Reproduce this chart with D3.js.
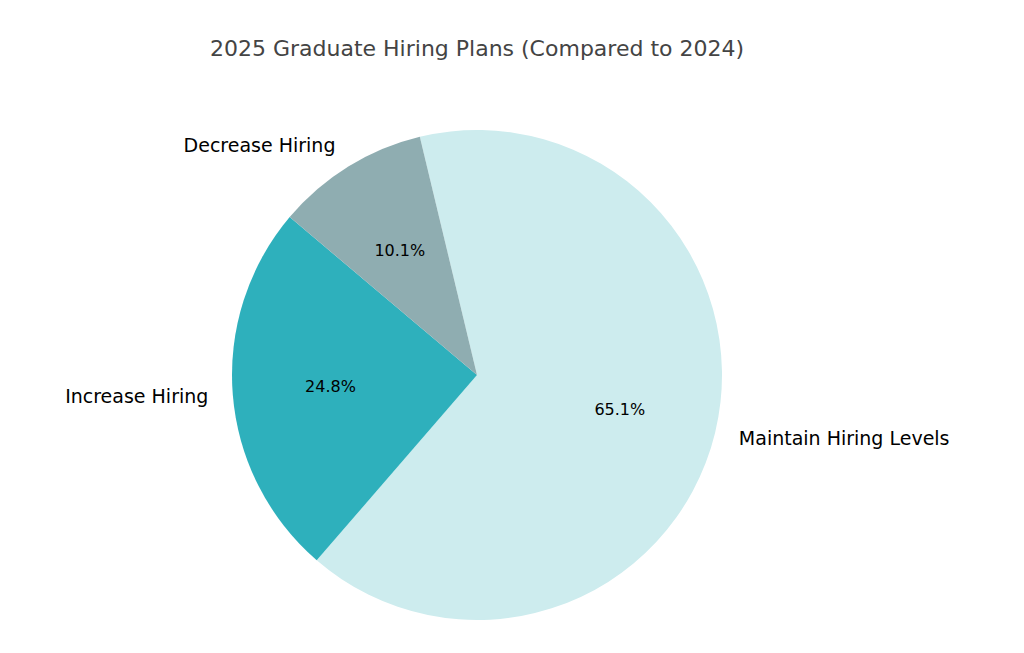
<!DOCTYPE html>
<html><head><meta charset="utf-8">
<script src="https://cdn.jsdelivr.net/npm/d3@7"></script>
<style>body{margin:0;background:#fff}text{font-family:"DejaVu Sans",sans-serif}</style>
</head><body>
<svg width="1024" height="653"></svg>
<script>
var categories = ["Maintain Hiring Levels", "Increase Hiring", "Decrease Hiring"];
var values = [65.1, 24.8, 10.1];
var colors = ["#cdecee", "#2eb0bc", "#8fadb1"];

var svg = d3.select("svg");
var cx = 477, cy = 375, r = 245;
var start = -13.5 * Math.PI / 180;

svg.append("text")
    .attr("x", 477).attr("y", 56)
    .attr("text-anchor", "middle")
    .attr("fill", "#444")
    .style("font-size", "22px")
    .text("2025 Graduate Hiring Plans (Compared to 2024)");

var pie = d3.pie().sort(null).startAngle(start).endAngle(start + 2 * Math.PI);
var arcs = pie(values);
var arc = d3.arc().innerRadius(0).outerRadius(r);

var g = svg.append("g").attr("transform", "translate(" + cx + "," + cy + ")");

g.selectAll(".slice").data(arcs).enter()
  .append("path")
    .attr("class", "slice")
    .attr("d", arc)
    .attr("fill", function(d, i) { return colors[i]; });

function pos(d, f) {
  var a = (d.startAngle + d.endAngle) / 2;
  return [Math.sin(a) * r * f, -Math.cos(a) * r * f];
}

// Percent labels
g.selectAll(".pct").data(arcs).enter()
  .append("text")
    .attr("class", "pct")
    .attr("x", function(d) { return pos(d, 0.6)[0]; })
    .attr("y", function(d) { return pos(d, 0.6)[1]; })
    .attr("dy", "0.35em")
    .attr("text-anchor", "middle")
    .style("font-size", "16px")
    .text(function(d) { return d.value.toFixed(1) + "%"; });

// Category labels
g.selectAll(".lbl").data(arcs).enter()
  .append("text")
    .attr("class", "lbl")
    .attr("x", function(d) { return pos(d, 1.1)[0]; })
    .attr("y", function(d) { return pos(d, 1.1)[1]; })
    .attr("dy", "0.35em")
    .attr("text-anchor", function(d) { return pos(d, 1.1)[0] > 0 ? "start" : "end"; })
    .style("font-size", "19px")
    .text(function(d, i) { return categories[i]; });
</script>
</body></html>
